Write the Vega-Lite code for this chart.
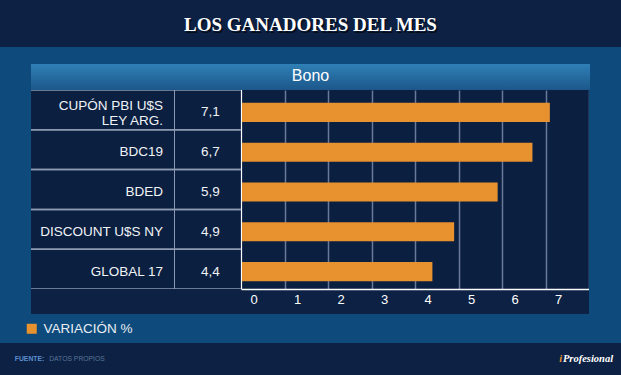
{
  "$schema": "https://vega.github.io/schema/vega-lite/v6.json",
  "background": "#0c2143",
  "padding": 0,
  "spacing": 0,
  "config": {
    "view": {"stroke": null},
    "locale": {"number": {"decimal": ",", "thousands": ".", "grouping": [3], "currency": ["$", ""]}},
    "text": {"font": "Liberation Sans"}
  },
  "datasets": {
    "bonos": [
      {"bono": "CUPÓN PBI U$S\nLEY ARG.", "variacion": 7.1},
      {"bono": "BDC19", "variacion": 6.7},
      {"bono": "BDED", "variacion": 5.9},
      {"bono": "DISCOUNT U$S NY", "variacion": 4.9},
      {"bono": "GLOBAL 17", "variacion": 4.4}
    ]
  },
  "vconcat": [
    {
      "width": 621, "height": 47,
      "view": {"fill": "#0c2143"},
      "data": {"values": [{"t": "LOS GANADORES DEL MES"}]},
      "layer": [
        {"mark": {"type": "text", "font": "Liberation Serif", "fontWeight": "bold", "fontSize": 19, "color": "#000000", "opacity": 0.6, "dx": 1.5, "dy": 3.3},
         "encoding": {"text": {"field": "t", "type": "nominal"}}},
        {"mark": {"type": "text", "font": "Liberation Serif", "fontWeight": "bold", "fontSize": 19, "color": "#ffffff", "dy": 1.8},
         "encoding": {"text": {"field": "t", "type": "nominal"}}}
      ]
    },
    {"width": 621, "height": 17, "data": {"values": []}, "mark": "point", "view": {"fill": "#0e4b7c"}},
    {
      "hconcat": [
        {"width": 31, "height": 26, "data": {"values": []}, "mark": "point", "view": {"fill": "#0e4b7c"}},
        {
          "width": 559, "height": 26,
          "view": {"fill": {"gradient": "linear", "x1": 0, "y1": 0, "x2": 0, "y2": 1, "stops": [{"offset": 0, "color": "#2f80b6"}, {"offset": 1, "color": "#1c578a"}]}},
          "data": {"values": [{"t": "Bono"}]},
          "mark": {"type": "text", "fontSize": 16, "color": "#ffffff", "dy": -1.5},
          "encoding": {"text": {"field": "t", "type": "nominal"}}
        },
        {"width": 31, "height": 26, "data": {"values": []}, "mark": "point", "view": {"fill": "#0e4b7c"}}
      ],
      "spacing": 0,
      "bounds": "flush"
    },
    {
      "hconcat": [
        {"width": 31, "height": 224, "data": {"values": []}, "mark": "point", "view": {"fill": "#0e4b7c"}},
        {
          "width": 144, "height": 199,
          "view": {"fill": "#0b1f40"},
          "data": {"name": "bonos"},
          "layer": [
            {"mark": {"type": "rule", "color": "#8d9ab0", "strokeWidth": 1.5, "clip": true},
             "encoding": {"y": {"field": "bono", "type": "nominal", "sort": null, "bandPosition": 0, "scale": {"type": "band", "paddingInner": 0, "paddingOuter": 0}, "axis": null}}},
            {"mark": {"type": "rule", "color": "#8d9ab0", "strokeWidth": 1.5, "clip": true},
             "encoding": {"y": {"field": "bono", "type": "nominal", "sort": null, "bandPosition": 1, "scale": {"type": "band", "paddingInner": 0, "paddingOuter": 0}, "axis": null}}},
            {"mark": {"type": "rule", "color": "#8d9ab0", "strokeWidth": 1.5, "clip": true},
             "encoding": {"x": {"value": "width"}}},
            {"transform": [{"filter": "indexof(datum.bono, '\\n') < 0"}],
             "mark": {"type": "text", "align": "right", "dx": -12, "dy": 2.5, "fontSize": 13.5, "color": "#f0f3f7"},
             "encoding": {
               "x": {"value": "width"},
               "y": {"field": "bono", "type": "nominal", "sort": null, "scale": {"type": "band", "paddingInner": 0, "paddingOuter": 0}, "axis": null},
               "text": {"field": "bono", "type": "nominal"}
             }},
            {"transform": [{"filter": "indexof(datum.bono, '\\n') >= 0"}],
             "mark": {"type": "text", "align": "right", "dx": -12, "dy": -4, "fontSize": 13.5, "color": "#f0f3f7", "lineBreak": "\n", "lineHeight": 15},
             "encoding": {
               "x": {"value": "width"},
               "y": {"field": "bono", "type": "nominal", "sort": null, "scale": {"type": "band", "paddingInner": 0, "paddingOuter": 0}, "axis": null},
               "text": {"field": "bono", "type": "nominal"}
             }}
          ]
        },
        {
          "width": 66, "height": 199,
          "view": {"fill": "#0b1f40"},
          "data": {"name": "bonos"},
          "layer": [
            {"mark": {"type": "rule", "color": "#8d9ab0", "strokeWidth": 1.5, "clip": true},
             "encoding": {"y": {"field": "bono", "type": "nominal", "sort": null, "bandPosition": 0, "scale": {"type": "band", "paddingInner": 0, "paddingOuter": 0}, "axis": null}}},
            {"mark": {"type": "rule", "color": "#8d9ab0", "strokeWidth": 1.5, "clip": true},
             "encoding": {"y": {"field": "bono", "type": "nominal", "sort": null, "bandPosition": 1, "scale": {"type": "band", "paddingInner": 0, "paddingOuter": 0}, "axis": null}}},
            {"mark": {"type": "text", "dx": 2.5, "dy": 2.5, "fontSize": 13.5, "color": "#f0f3f7"},
             "encoding": {
               "y": {"field": "bono", "type": "nominal", "sort": null, "scale": {"type": "band", "paddingInner": 0, "paddingOuter": 0}, "axis": null},
               "text": {"field": "variacion", "type": "quantitative", "format": ".1f"}
             }}
          ]
        },
        {
          "width": 348, "height": 199,
          "view": {"fill": "#0b1f40"},
          "data": {"name": "bonos"},
          "layer": [
            {"mark": {"type": "bar", "height": {"band": 0.48}, "yOffset": 2.5},
             "encoding": {
               "x": {"field": "variacion", "type": "quantitative",
                     "scale": {"domain": [0, 8], "nice": false, "zero": true},
                     "axis": {"values": [0, 1, 2, 3, 4, 5, 6, 7, 8], "labelExpr": "datum.value >= 8 ? '' : datum.label",
                              "grid": true, "gridColor": "#6a7b99", "gridWidth": 1.5, "ticks": false,
                              "domain": true, "domainColor": "#ffffff", "domainWidth": 1.5,
                              "labelColor": "#ffffff", "labelFontSize": 13, "labelFont": "Liberation Sans",
                              "labelOffset": 12.5, "labelPadding": 4, "labelFlush": false, "labelOverlap": false, "title": null}},
               "y": {"field": "bono", "type": "nominal", "sort": null, "scale": {"type": "band", "paddingInner": 0, "paddingOuter": 0}, "axis": null},
               "color": {"datum": "VARIACIÓN %", "scale": {"range": ["#e8912f"]},
                         "legend": {"orient": "none", "legendX": 25, "legendY": 322, "title": null, "symbolType": "square", "symbolSize": 100, "symbolStrokeWidth": 0, "labelFontSize": 13.5, "labelColor": "#e8edf3", "labelFont": "Liberation Sans", "labelOffset": 5, "padding": 0}}
             }},
            {"mark": {"type": "rule", "color": "#ffffff", "strokeWidth": 1.5, "clip": true},
             "encoding": {"x": {"datum": 0}}}
          ]
        },
        {"width": 32, "height": 224, "data": {"values": []}, "mark": "point", "view": {"fill": "#0e4b7c"}}
      ],
      "spacing": 0,
      "bounds": "flush"
    },
    {"width": 621, "height": 29, "data": {"values": []}, "mark": "point", "view": {"fill": "#0e4b7c"}},
    {
      "hconcat": [
        {"width": 15, "height": 32, "data": {"values": []}, "mark": "point"},
        {"width": 29, "height": 32, "data": {"values": [{"t": "FUENTE:"}]},
         "mark": {"type": "text", "fontSize": 6.8, "fontWeight": "bold", "color": "#5b8fd0"},
         "encoding": {"text": {"field": "t", "type": "nominal"}}},
        {"width": 4, "height": 32, "data": {"values": []}, "mark": "point"},
        {"width": 58, "height": 32, "data": {"values": [{"t": "DATOS PROPIOS"}]},
         "mark": {"type": "text", "fontSize": 6.8, "color": "#5a7699"},
         "encoding": {"text": {"field": "t", "type": "nominal"}}},
        {"width": 453, "height": 32, "data": {"values": []}, "mark": "point"},
        {"width": 3.5, "height": 32, "data": {"values": [{"t": "i"}]},
         "mark": {"type": "text", "font": "Liberation Serif", "fontStyle": "italic", "fontWeight": "bold", "fontSize": 10.5, "color": "#e8912f"},
         "encoding": {"text": {"field": "t", "type": "nominal"}}},
        {"width": 50, "height": 32, "data": {"values": [{"t": "Profesional"}]},
         "mark": {"type": "text", "font": "Liberation Serif", "fontStyle": "italic", "fontWeight": "bold", "fontSize": 10.5, "color": "#ffffff"},
         "encoding": {"text": {"field": "t", "type": "nominal"}}},
        {"width": 8.5, "height": 32, "data": {"values": []}, "mark": "point"}
      ],
      "spacing": 0,
      "bounds": "flush"
    }
  ]
}
